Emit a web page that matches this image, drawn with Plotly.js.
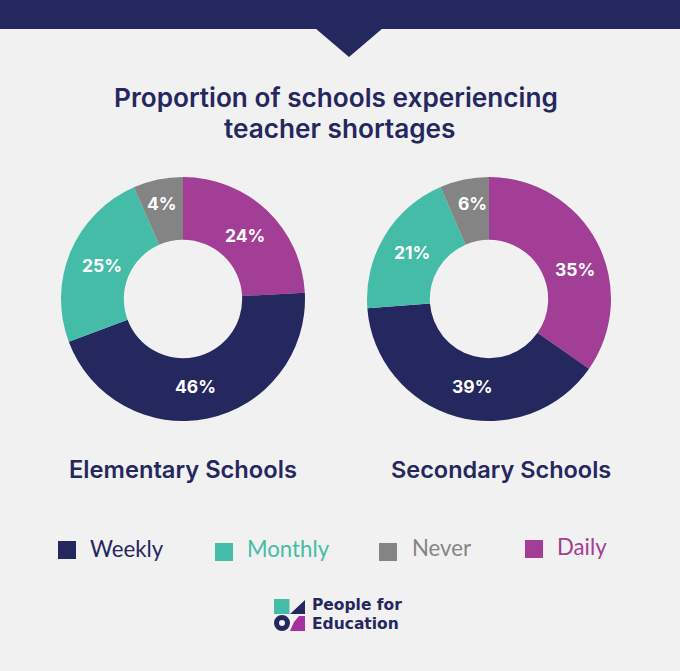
<!DOCTYPE html>
<html>
<head>
<meta charset="utf-8">
<script src="https://cdn.plot.ly/plotly-3.0.1.min.js"></script>
<style>html,body{margin:0;padding:0;background:#f1f1f1;}</style>
</head>
<body>
<div id="chart" style="width:680px;height:671px;"></div>
<script>
var W = 680, H = 671;

// clockwise from 12 o'clock
var categories = ['Daily', 'Weekly', 'Monthly', 'Never'];
// slice sizes as drawn in the picture (they differ a little from the printed labels)
var elementary = [24.2, 45.1, 24.1, 6.6];
var secondary = [34.7, 39.1, 19.7, 6.5];
// printed labels
var elementary_labels = ['24%', '46%', '25%', '4%'];
var secondary_labels = ['35%', '39%', '21%', '6%'];
var colors = ['#a23e96', '#25275f', '#45bca8', '#848484'];

// the labels are hand placed in the original, pie auto placement lands off by up to 12px
var elementary_label_x = [245, 195, 102, 162];
var elementary_label_y = [235, 386, 266, 203];
var secondary_label_x = [575, 472, 412, 472];
var secondary_label_y = [269, 386, 253, 203];

var legend_names = ['Weekly', 'Monthly', 'Never', 'Daily'];
var legend_colors = ['#25275f', '#45bca8', '#848484', '#a23e96'];
var legend_box_x = [58, 215, 379, 525];
var legend_box_y = [541, 543, 543, 540];
var legend_text_x = [88, 245, 410, 555];
var legend_text_y = [548, 548, 547, 546];

var navy = '#25275f';
var font_head = 'Inter, "Open Sans", sans-serif';
var font_legend = 'Lato, "Open Sans", sans-serif';
var font_logo = '"DejaVu Sans", sans-serif';

function px(x){ return x / W; }
function py(y){ return 1 - y / H; }

function donut(values, labels, x0, x1){
  return {
    type: 'pie',
    labels: categories,
    values: values,
    text: labels,
    textinfo: 'none',
    hole: 0.485,
    sort: false,
    direction: 'clockwise',
    rotation: 0,
    marker: {colors: colors, line: {width: 0}},
    domain: {x: [px(x0), px(x1)], y: [py(421), py(177)]},
    showlegend: false,
    hoverinfo: 'label+text'
  };
}

var data = [donut(elementary, elementary_labels, 61, 305), donut(secondary, secondary_labels, 367, 611)];

function label(text, x, y, size, color, family, weight, anchor){
  return {
    text: text, xref: 'paper', yref: 'paper', x: px(x), y: py(y),
    xanchor: anchor || 'left', yanchor: 'middle', showarrow: false,
    font: {family: family, size: size, color: color, weight: weight}
  };
}

var annotations = [
  label('Proportion of schools experiencing', 336, 98, 26.2, navy, font_head, 600, 'center'),
  label('teacher shortages', 339, 129, 26.2, navy, font_head, 600, 'center'),
  label('Elementary Schools', 183, 469.5, 23.7, navy, font_head, 600, 'center'),
  label('Secondary Schools', 501, 469.5, 23.5, navy, font_head, 600, 'center'),
  label('People for', 310, 604.5, 15.5, navy, font_logo, 700),
  label('Education', 310, 624, 15.5, navy, font_logo, 700)
];

for (var i = 0; i < legend_names.length; i++){
  annotations.push(label(legend_names[i], legend_text_x[i], legend_text_y[i], 22.2, legend_colors[i], font_legend, 400));
}
for (var k = 0; k < categories.length; k++){
  annotations.push(label(elementary_labels[k], elementary_label_x[k], elementary_label_y[k], 17.5, '#ffffff', font_head, 700, 'center'));
  annotations.push(label(secondary_labels[k], secondary_label_x[k], secondary_label_y[k], 17.5, '#ffffff', font_head, 700, 'center'));
}

function rect(x0, y0, x1, y1, color){
  return {type: 'rect', xref: 'paper', yref: 'paper', x0: px(x0), x1: px(x1), y0: py(y1), y1: py(y0),
    fillcolor: color, line: {width: 0}};
}
function poly(points, color){
  var path = points.map(function(p, i){ return (i ? 'L' : 'M') + px(p[0]) + ',' + py(p[1]); }).join(' ') + ' Z';
  return {type: 'path', xref: 'paper', yref: 'paper', path: path, fillcolor: color, line: {width: 0}};
}

var shapes = [
  rect(0, 0, W, 29, navy),
  poly([[315, 28], [349, 57], [383, 28]], navy),
  // logo
  rect(274, 599, 289.5, 614, '#45bca8'),
  poly([[290, 614], [305, 600], [305, 614]], navy),
  {type: 'circle', xref: 'paper', yref: 'paper', x0: px(276.5), x1: px(287.5), y0: py(628.5), y1: py(617.5),
    fillcolor: 'rgba(0,0,0,0)', line: {color: navy, width: 5}},
  poly([[290, 631], [294, 622], [299, 616], [305, 616], [305, 631]], '#a8309f')
];
for (var j = 0; j < legend_names.length; j++){
  shapes.push(rect(legend_box_x[j], legend_box_y[j], legend_box_x[j] + 18, legend_box_y[j] + 18, legend_colors[j]));
}

var layout = {
  width: W, height: H,
  margin: {l: 0, r: 0, t: 0, b: 0},
  paper_bgcolor: '#f1f1f1',
  plot_bgcolor: '#f1f1f1',
  showlegend: false,
  annotations: annotations,
  shapes: shapes
};

Plotly.newPlot('chart', data, layout, {staticPlot: true});
</script>
</body>
</html>
